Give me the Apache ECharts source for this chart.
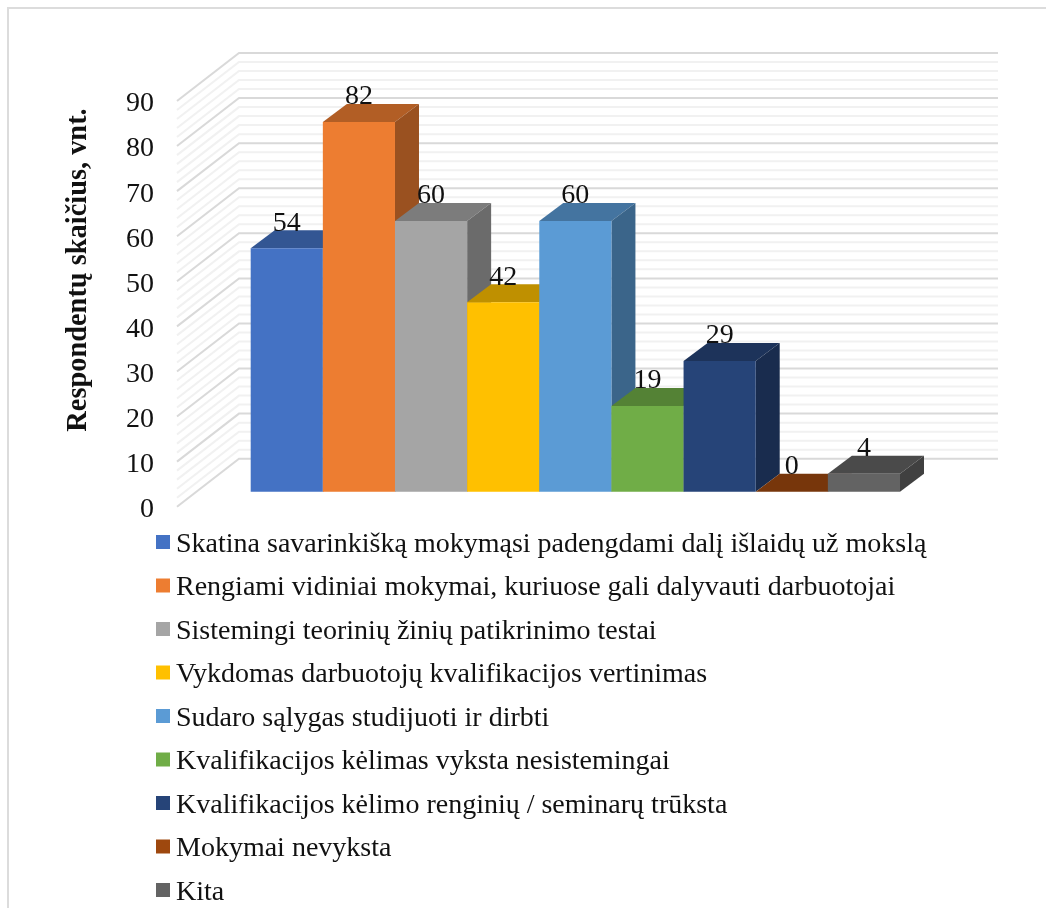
<!DOCTYPE html>
<html>
<head>
<meta charset="utf-8">
<style>html,body{margin:0;padding:0;background:#fff}#chart{width:1046px;height:908px}</style>
<script src="https://cdn.jsdelivr.net/npm/echarts@6/dist/echarts.min.js"></script>
</head>
<body>
<div id="chart"></div>
<script>
// Respondents per staff-development statement
const categories = [
  'Skatina savarinkišką mokymąsi padengdami dalį išlaidų už mokslą',
  'Rengiami vidiniai mokymai, kuriuose gali dalyvauti darbuotojai',
  'Sistemingi teorinių žinių patikrinimo testai',
  'Vykdomas darbuotojų kvalifikacijos vertinimas',
  'Sudaro sąlygas studijuoti ir dirbti',
  'Kvalifikacijos kėlimas vyksta nesistemingai',
  'Kvalifikacijos kėlimo renginių / seminarų trūksta',
  'Mokymai nevyksta',
  'Kita'
];
const values = [54, 82, 60, 42, 60, 19, 29, 0, 4];
const colors = ['#4472C4', '#ED7D31', '#A5A5A5', '#FFC000', '#5B9BD5', '#70AD47', '#264478', '#9E480E', '#636363'];
const wallMinorTicks = [2, 4, 6, 8, 12, 14, 16, 18, 22, 24, 26, 28, 32, 34, 36, 38, 42, 44, 46, 48, 52, 54, 56, 58, 62, 64, 66, 68, 72, 74, 76, 78, 82, 84, 86, 88];
const wallMajorTicks = [0, 10, 20, 30, 40, 50, 60, 70, 80, 90];
const axisTitle = 'Respondentų skaičius, vnt.';

const SERIF = '"Liberation Serif", "Times New Roman", serif';
const WALL_DX = 62, WALL_DY = 48, WALL_RIGHT = 998;
const BAR_DX = 24, BAR_DY = 18;

function shade(hex, k) {
  const n = parseInt(hex.slice(1), 16);
  const c = [n >> 16, (n >> 8) & 255, n & 255].map(v => Math.round(v * k));
  return 'rgb(' + c.join(',') + ')';
}

// Side wall and back wall lines for one axis value
function wallRenderer(color) {
  return function (params, api) {
    const p = api.coord([0, api.value(0)]);
    return {
      type: 'polyline',
      silent: true,
      shape: { points: [p, [p[0] + WALL_DX, p[1] - WALL_DY], [WALL_RIGHT, p[1] - WALL_DY]] },
      style: { stroke: color, lineWidth: 2, fill: null }
    };
  };
}

// Extruded column: front face, top and right side, value printed above
function columnRenderer(color) {
  return function (params, api) {
    const top = api.coord([api.value(0), api.value(1)]);
    const base = api.coord([api.value(0), 0]);
    const w = api.size([1, 0])[0];
    const x0 = top[0] - w / 2, x1 = top[0] + w / 2, yT = top[1], yB = base[1];
    return {
      type: 'group',
      children: [
        { type: 'polygon', shape: { points: [[x0, yT], [x1, yT], [x1 + BAR_DX, yT - BAR_DY], [x0 + BAR_DX, yT - BAR_DY]] }, style: { fill: shade(color, 0.75) } },
        { type: 'polygon', shape: { points: [[x1, yT], [x1 + BAR_DX, yT - BAR_DY], [x1 + BAR_DX, yB - BAR_DY], [x1, yB]] }, style: { fill: shade(color, 0.65) } },
        { type: 'rect', shape: { x: x0, y: yT, width: w, height: yB - yT }, style: { fill: color } },
        { type: 'text', z2: 50, style: { x: top[0], y: yT - 25, text: String(api.value(1)), fill: '#111', font: '28px ' + SERIF, align: 'center', verticalAlign: 'middle' } }
      ]
    };
  };
}

const series = [
  { type: 'custom', name: 'wall-minor', xAxisIndex: 0, yAxisIndex: 0, silent: true, renderItem: wallRenderer('#f1f1f1'), data: wallMinorTicks.map(v => [v]), encode: { y: 0 } },
  { type: 'custom', name: 'wall-major', xAxisIndex: 0, yAxisIndex: 0, silent: true, renderItem: wallRenderer('#d9d9d9'), data: wallMajorTicks.map(v => [v]), encode: { y: 0 } }
];
categories.forEach((name, i) => {
  series.push({
    type: 'custom',
    name: name,
    xAxisIndex: 1,
    yAxisIndex: 1,
    itemStyle: { color: colors[i] },
    renderItem: columnRenderer(colors[i]),
    encode: { x: 0, y: 1 },
    data: [[i, values[i]]]
  });
});

const chart = echarts.init(document.getElementById('chart'), null, { renderer: 'canvas' });
chart.setOption({
  animation: false,
  backgroundColor: '#fff',
  grid: [
    { left: 177, top: 101, width: 821, height: 405.7 },
    { left: 250.7, top: 85.8, width: 649.3, height: 405.9 }
  ],
  xAxis: [
    { gridIndex: 0, type: 'value', show: false, min: 0, max: 1 },
    { gridIndex: 1, type: 'category', show: false, data: categories }
  ],
  yAxis: [
    {
      gridIndex: 0, type: 'value', min: 0, max: 90, interval: 10,
      axisLine: { show: false }, axisTick: { show: false }, splitLine: { show: false },
      axisLabel: {
        margin: 23,
        formatter: '{v|{value}}',
        rich: { v: { color: '#111', fontFamily: SERIF, fontSize: 28, lineHeight: 28, padding: [6, 0, 0, 0] } }
      }
    },
    { gridIndex: 1, type: 'value', show: false, min: 0, max: 90, splitLine: { show: false } }
  ],
  legend: {
    data: categories,
    orient: 'vertical',
    left: 156,
    top: 525.5,
    padding: 0,
    itemWidth: 14,
    itemHeight: 14,
    itemGap: 10.5,
    icon: 'rect',
    selectedMode: false,
    formatter: name => '{t|' + name + '}',
    textStyle: {
      rich: { t: { color: '#111', fontFamily: SERIF, fontSize: 28, lineHeight: 28, padding: [5, 0, 0, 1] } }
    }
  },
  graphic: [
    { type: 'rect', silent: true, z: -10, shape: { x: 8, y: 8, width: 1100, height: 1000 }, style: { fill: null, stroke: '#dcdcdc', lineWidth: 2 } },
    { type: 'text', silent: true, rotation: Math.PI / 2, x: 79, y: 270, style: { text: axisTitle, fill: '#111', font: 'bold 28.4px ' + SERIF, align: 'center', verticalAlign: 'middle' } }
  ],
  series: series
});
</script>
</body>
</html>
